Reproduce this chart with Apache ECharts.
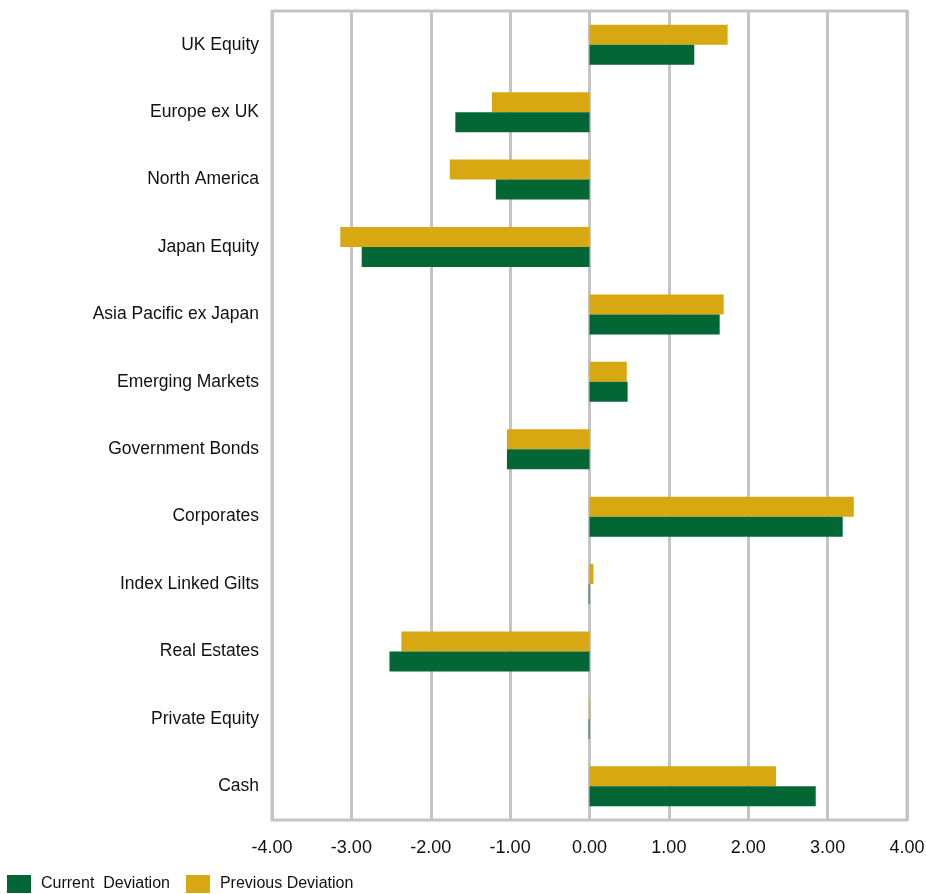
<!DOCTYPE html>
<html>
<head>
<meta charset="utf-8">
<style>
  html, body { margin: 0; padding: 0; background: #fff; }
  #chart { width: 926px; height: 894px; }
</style>
<script src="https://cdn.jsdelivr.net/npm/echarts@6/dist/echarts.min.js"></script>
</head>
<body>
<div id="chart"></div>
<script>
const categories = [
  'UK Equity', 'Europe ex UK', 'North America', 'Japan Equity',
  'Asia Pacific ex Japan', 'Emerging Markets', 'Government Bonds', 'Corporates',
  'Index Linked Gilts', 'Real Estates', 'Private Equity', 'Cash'
]
const currentDeviation = [1.32, -1.69, -1.18, -2.87, 1.64, 0.48, -1.04, 3.19, -0.01, -2.52, -0.01, 2.85]
const previousDeviation = [1.74, -1.23, -1.76, -3.14, 1.69, 0.47, -1.04, 3.33, 0.05, -2.37, 0.01, 2.35]
const xTicks = { min: -4, max: 4, interval: 1 }

const chart = echarts.init(document.getElementById('chart'))
const option = {
  animation: false,
  textStyle: { fontFamily: 'Liberation Sans, Arial, sans-serif' },
  color: ['#036635', '#D8A813'],
  grid: {
    left: 272,
    right: 19,
    top: 11,
    bottom: 74,
    outerBoundsMode: 'none',
    show: true,
    borderColor: '#c4c4c4',
    borderWidth: 3
  },
  legend: {
    left: 2,
    top: 870,
    itemWidth: 24,
    itemHeight: 18,
    itemGap: 16,
    icon: 'rect',
    textStyle: { fontSize: 16, color: '#111', padding: [0, 0, 0, 5] },
    data: ['Current  Deviation', 'Previous Deviation']
  },
  xAxis: {
    type: 'value',
    min: xTicks.min,
    max: xTicks.max,
    interval: xTicks.interval,
    axisLine: { show: false },
    axisTick: { show: false },
    splitLine: { lineStyle: { color: '#c4c4c4', width: 3 } },
    axisLabel: {
      fontSize: 18,
      color: '#111',
      margin: 19,
      formatter: (v) => v.toFixed(2)
    }
  },
  yAxis: {
    type: 'category',
    inverse: true,
    data: categories,
    axisLine: { show: false },
    axisTick: { show: false },
    splitLine: { show: false },
    axisLabel: { fontSize: 17.5, color: '#111', margin: 13 }
  },
  series: [
    {
      name: 'Previous Deviation',
      type: 'bar',
      barWidth: 20,
      barGap: '0%',
      itemStyle: { color: '#D8A813' },
      data: previousDeviation
    },
    {
      name: 'Current  Deviation',
      type: 'bar',
      barWidth: 20,
      barGap: '0%',
      itemStyle: { color: '#036635' },
      data: currentDeviation
    }
  ]
}
chart.setOption(option)
</script>
</body>
</html>
